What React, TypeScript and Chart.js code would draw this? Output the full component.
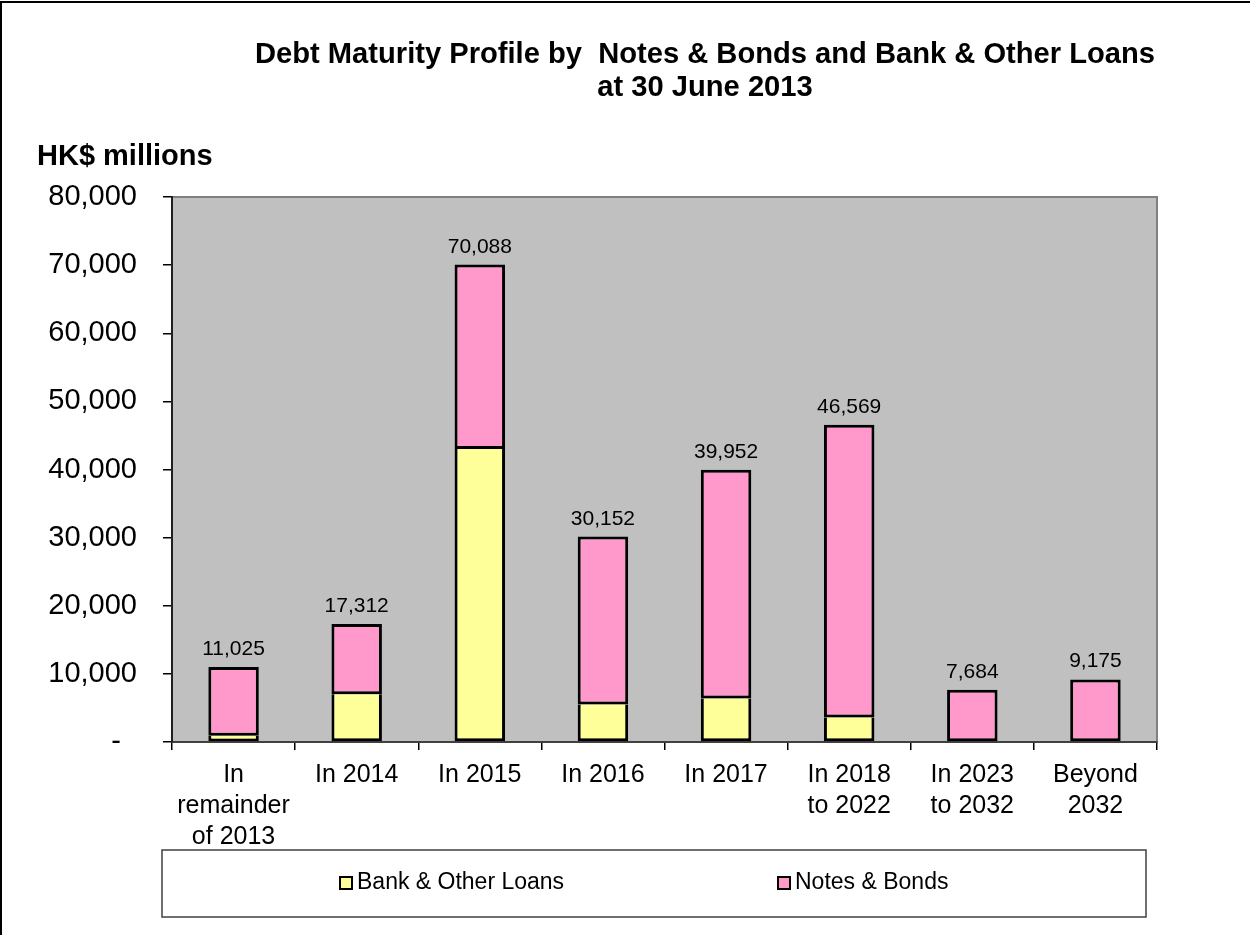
import React, { useEffect, useRef } from "react";
import { Chart, registerables } from "chart.js";

Chart.register(...registerables);

const categories: string[][] = [
  ["In", "remainder", "of 2013"],
  ["In 2014"],
  ["In 2015"],
  ["In 2016"],
  ["In 2017"],
  ["In 2018", "to 2022"],
  ["In 2023", "to 2032"],
  ["Beyond", "2032"],
];
const totals = [11025, 17312, 70088, 30152, 39952, 46569, 7684, 9175];
const bankLoans = [900, 7000, 43000, 5500, 6400, 3600, 0, 0];
const notesBonds = [10125, 10312, 27088, 24652, 33552, 42969, 7684, 9175];
const titleLines = ["Debt Maturity Profile by  Notes & Bonds and Bank & Other Loans", "at 30 June 2013"];
const yAxisTitle = "HK$ millions";
const seriesNames = ["Bank & Other Loans", "Notes & Bonds"];

const FONT = "'Liberation Sans', Arial, sans-serif";
const YELLOW = "#FFFF99";
const PINK = "#FF99CC";

const fmt = (v: number) => v.toLocaleString("en-US");

const decorPlugin = {
  id: "decor",
  beforeDraw(chart: any) {
    const { ctx, chartArea: a } = chart;
    ctx.save();
    ctx.fillStyle = "#ffffff";
    ctx.fillRect(0, 0, chart.width, chart.height);
    ctx.strokeStyle = "#000";
    ctx.lineWidth = 2;
    ctx.beginPath();
    ctx.moveTo(1, chart.height);
    ctx.lineTo(1, 2);
    ctx.lineTo(chart.width, 2);
    ctx.stroke();
    ctx.fillStyle = "#C0C0C0";
    ctx.fillRect(a.left, a.top, a.right - a.left, a.bottom - a.top);
    ctx.strokeStyle = "#808080";
    ctx.lineWidth = 2;
    ctx.strokeRect(a.left, a.top, a.right - a.left, a.bottom - a.top);
    ctx.restore();
  },
  afterDatasetsDraw(chart: any) {
    const { ctx } = chart;
    const meta = chart.getDatasetMeta(1);
    ctx.save();
    ctx.fillStyle = "#000";
    ctx.font = `21px ${FONT}`;
    ctx.textAlign = "center";
    ctx.textBaseline = "alphabetic";
    meta.data.forEach((el: any, i: number) => {
      ctx.fillText(fmt(totals[i]), el.x, el.y - 12);
    });
    ctx.restore();
  },
  afterDraw(chart: any) {
    const { ctx } = chart;
    ctx.save();
    ctx.fillStyle = "#000";
    ctx.font = `bold 29px ${FONT}`;
    ctx.textBaseline = "alphabetic";
    ctx.textAlign = "center";
    const w0 = ctx.measureText(titleLines[0]).width;
    const sx = 900 / w0;
    const cx = 705;
    [63, 96].forEach((y, i) => {
      ctx.save();
      ctx.translate(cx, y);
      ctx.scale(sx, 1);
      ctx.fillText(titleLines[i], 0, 0);
      ctx.restore();
    });
    ctx.font = `bold 29px ${FONT}`;
    ctx.textAlign = "left";
    ctx.fillText(yAxisTitle, 37, 165);
    const lx = 162, ly = 850, lw = 984, lh = 67;
    ctx.strokeStyle = "#404040";
    ctx.lineWidth = 1.5;
    ctx.strokeRect(lx, ly, lw, lh);
    const items = [
      { x: 340, color: YELLOW, text: seriesNames[0] },
      { x: 778, color: PINK, text: seriesNames[1] },
    ];
    ctx.font = `23px ${FONT}`;
    ctx.textBaseline = "middle";
    items.forEach((it) => {
      ctx.fillStyle = it.color;
      ctx.fillRect(it.x, 877, 12, 12);
      ctx.strokeStyle = "#000";
      ctx.lineWidth = 2;
      ctx.strokeRect(it.x, 877, 12, 12);
      ctx.fillStyle = "#000";
      ctx.fillText(it.text, it.x + 17, 883);
    });
    ctx.restore();
  },
};

export default function App() {
  const ref = useRef<HTMLCanvasElement | null>(null);
  useEffect(() => {
    if (!ref.current) return;
    const chart = new Chart(ref.current, {
      type: "bar",
      data: {
        labels: categories,
        datasets: [
          {
            label: seriesNames[0],
            data: bankLoans,
            backgroundColor: YELLOW,
            borderColor: "#000",
            borderWidth: 3,
            borderSkipped: "end",
            barPercentage: 0.41,
            categoryPercentage: 1,
          },
          {
            label: seriesNames[1],
            data: notesBonds,
            backgroundColor: PINK,
            borderColor: "#000",
            borderWidth: 3,
            borderSkipped: false,
            barPercentage: 0.41,
            categoryPercentage: 1,
          },
        ],
      },
      options: {
        animation: false,
        responsive: false,
        devicePixelRatio: 1,
        layout: { padding: { left: 0, right: 93, top: 197, bottom: 85 } },
        plugins: { legend: { display: false }, title: { display: false }, tooltip: { enabled: false } },
        scales: {
          x: {
            stacked: true,
            grid: { display: true, offset: true, drawOnChartArea: false, drawTicks: true, tickLength: 8, color: "#000", lineWidth: 1.5 },
            border: { display: true, color: "#404040", width: 2 },
            ticks: { color: "#000", font: { family: FONT, size: 25, lineHeight: 1.24 }, padding: 10, maxRotation: 0, autoSkip: false },
            afterFit: (s: any) => { s.height = 108; },
          },
          y: {
            stacked: true,
            min: 0,
            max: 80000,
            grid: { display: true, drawOnChartArea: false, drawTicks: true, tickLength: 9, color: "#000", lineWidth: 1.5 },
            border: { display: true, color: "#202020", width: 2 },
            ticks: {
              stepSize: 10000,
              color: "#000",
              font: { family: FONT, size: 29 },
              padding: 26,
              callback: (v: any) => (Number(v) === 0 ? "-  " : fmt(Number(v))),
            },
            afterFit: (s: any) => { s.width = 172; },
          },
        },
      },
      plugins: [decorPlugin],
    });
    return () => chart.destroy();
  }, []);
  return (
    <div style={{ position: "absolute", left: 0, top: 0, width: 1250, height: 935 }}>
      <canvas ref={ref} width={1250} height={935} style={{ width: 1250, height: 935 }} />
    </div>
  );
}
